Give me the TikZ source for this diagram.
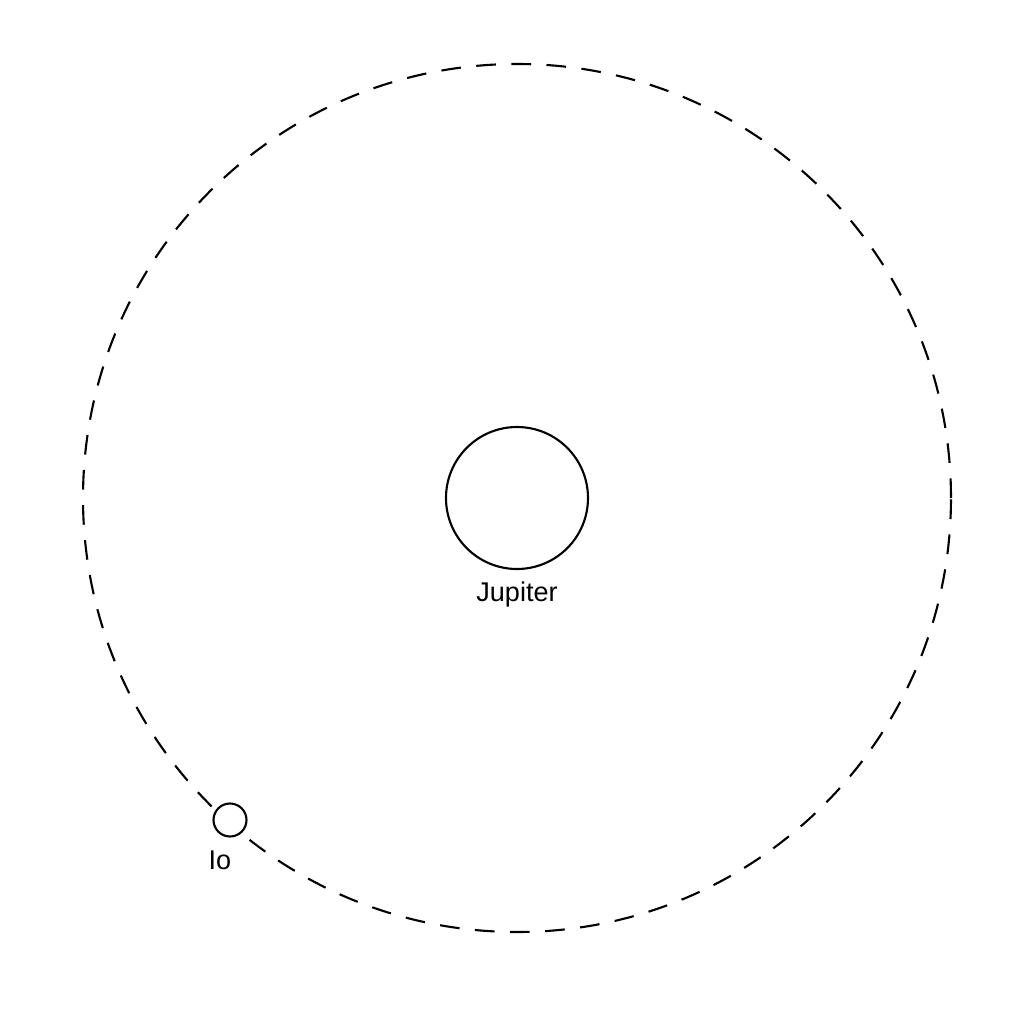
\documentclass[tikz,border=0pt]{standalone}
\usepackage{fontspec}
\setmainfont{Liberation Sans}
\usepackage{tikz}

\begin{document}
\begin{tikzpicture}[-,>=latex,auto, body node/.style={circle,draw,line width=0.6pt,inner sep=0pt}]
	\tikzstyle{every node}=[font=\fontsize{7.7}{9}\selectfont]
	\useasboundingbox (-5.17,-5.26) rectangle (5.07,4.98);
	\draw [dash pattern=on 5.6pt off 4.4pt,line width=0.6pt] (0,0) circle (4.34cm);
	\draw
		(0,0) node[body node,minimum size=1.42cm](jupiter) {}
		(0,-0.96) node(jupiterlabel) {Jupiter}
		(-2.87,-3.22) node[body node,fill=white,minimum size=0.33cm](io) {}
		(-2.97,-3.62) node(iolabel) {Io};
\end{tikzpicture}
\end{document}
